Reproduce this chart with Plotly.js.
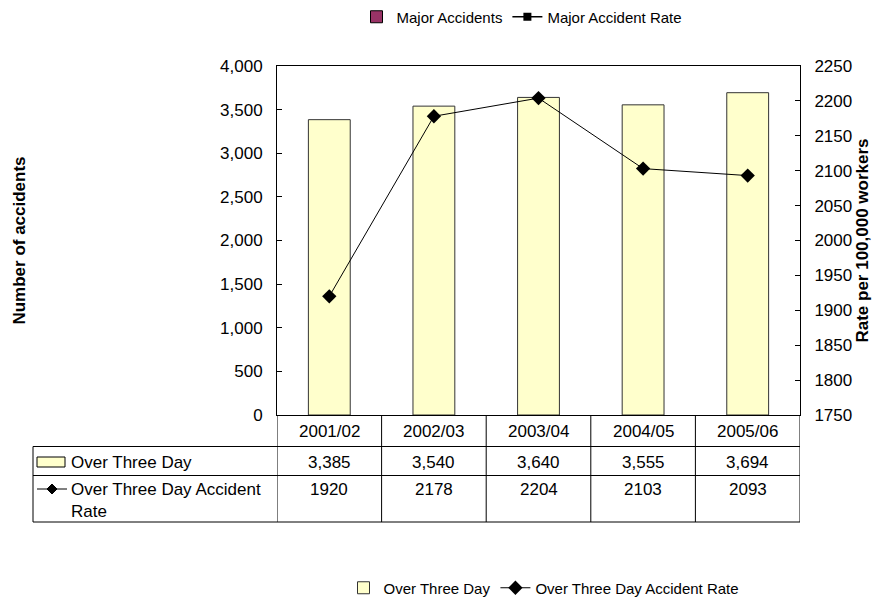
<!DOCTYPE html>
<html>
<head>
<meta charset="utf-8">
<script src="https://cdn.plot.ly/plotly-3.0.1.min.js"></script>
<style>html,body{margin:0;padding:0;background:#fff;}#chart{width:879px;height:599px;}</style>
</head>
<body>
<div id="chart"></div>
<script>
// ---- data ----
const categories = ["2001/02", "2002/03", "2003/04", "2004/05", "2005/06"];
const overThreeDay = [3385, 3540, 3640, 3555, 3694];
const overThreeDayRate = [1920, 2178, 2204, 2103, 2093];
const majorAccidents = [null, null, null, null, null];
const majorAccidentRate = [null, null, null, null, null];
const leftTicks = [0, 500, 1000, 1500, 2000, 2500, 3000, 3500, 4000];
const rightTicks = [1750, 1800, 1850, 1900, 1950, 2000, 2050, 2100, 2150, 2200, 2250];

// ---- geometry helpers (pixel -> paper) ----
const W = 879, H = 599;
const L = 277, R = 800, T = 66, B = 415;
const px = x => (x - L) / (R - L);
const py = y => (B - y) / (B - T);

const FONT = "Liberation Sans, Arial, sans-serif";
const TF = 17; // tick/table font size
const fmt = v => v.toLocaleString("en-US");

const traces = [
  {type: "bar", name: "Major Accidents", x: categories, y: majorAccidents,
   marker: {color: "#993366", line: {color: "#000", width: 1}}, legend: "legend", yaxis: "y"},
  {type: "scatter", mode: "lines+markers", name: "Major Accident Rate", x: categories, y: majorAccidentRate,
   line: {color: "#000", width: 1.5}, marker: {symbol: "square", color: "#000", size: 8}, legend: "legend", yaxis: "y2"},
  {type: "bar", name: "Over Three Day", x: categories, y: overThreeDay,
   marker: {color: "#FFFFCC", line: {color: "#333", width: 1}}, legend: "legend2", yaxis: "y"},
  {type: "scatter", mode: "lines+markers", name: "Over Three Day Accident Rate", x: categories, y: overThreeDayRate,
   line: {color: "#000", width: 1}, marker: {symbol: "diamond", color: "#000", size: 11}, legend: "legend2", yaxis: "y2"}
];

// ---- table ----
const shapes = [];
const annotations = [];
const line = {color: "#000", width: 1};
shapes.push({type: "line", xref: "paper", yref: "paper", x0: px(33), x1: 1, y0: py(446.5), y1: py(446.5), line});
shapes.push({type: "line", xref: "paper", yref: "paper", x0: px(33), x1: 1, y0: py(475.5), y1: py(475.5), line});
shapes.push({type: "line", xref: "paper", yref: "paper", x0: px(33), x1: 1, y0: py(522), y1: py(522), line});
shapes.push({type: "line", xref: "paper", yref: "paper", x0: px(33), x1: px(33), y0: py(446.5), y1: py(522), line});
for (let i = 0; i <= categories.length; i++) {
  shapes.push({type: "line", xref: "x", yref: "paper", x0: i - 0.5, x1: i - 0.5, y0: 0, y1: py(522), line});
}
shapes.push({type: "rect", xref: "paper", yref: "paper", x0: px(37), x1: px(65), y0: py(457), y1: py(467),
  fillcolor: "#FFFFCC", line: {color: "#000", width: 1}});
shapes.push({type: "line", xref: "paper", yref: "paper", x0: px(37), x1: px(67), y0: py(489), y1: py(489), line});
shapes.push({type: "path", xref: "paper", yref: "paper",
  path: `M ${px(52)} ${py(484)} L ${px(57)} ${py(489)} L ${px(52)} ${py(494)} L ${px(47)} ${py(489)} Z`,
  fillcolor: "#000", line: {color: "#000", width: 1}});

annotations.push({xref: "paper", yref: "paper", x: px(69), y: py(462), xanchor: "left", yanchor: "middle",
  text: "Over Three Day", showarrow: false, font: {family: FONT, size: TF, color: "#000"}});
annotations.push({xref: "paper", yref: "paper", x: px(69), y: py(478), xanchor: "left", yanchor: "top", align: "left",
  text: "Over Three Day Accident<br>Rate", showarrow: false, font: {family: FONT, size: TF, color: "#000"}});

categories.forEach((c, i) => {
  annotations.push({xref: "x", yref: "paper", x: c, y: py(432), yanchor: "middle", text: c, showarrow: false,
    font: {family: FONT, size: TF, color: "#000"}});
  annotations.push({xref: "x", yref: "paper", x: c, y: py(462), yanchor: "middle", text: fmt(overThreeDay[i]), showarrow: false,
    font: {family: FONT, size: TF, color: "#000"}});
  annotations.push({xref: "x", yref: "paper", x: c, y: py(489), yanchor: "middle", text: String(overThreeDayRate[i]), showarrow: false,
    font: {family: FONT, size: TF, color: "#000"}});
});

const layout = {
  width: W, height: H,
  margin: {l: L, r: W - R, t: T, b: H - B, pad: 0, autoexpand: false},
  paper_bgcolor: "#fff", plot_bgcolor: "#fff",
  font: {family: FONT, size: TF, color: "#000"},
  barmode: "overlay",
  bargap: 0.6,
  xaxis: {type: "category", range: [-0.5, 4.5], showticklabels: false, ticks: "", showline: true,
    linecolor: "#000", linewidth: 1, mirror: true, showgrid: false, zeroline: false, automargin: false},
  yaxis: {range: [0, 4000], tickvals: leftTicks, ticktext: leftTicks.map(fmt), ticks: "inside", ticklen: 5,
    tickcolor: "#000", showline: true, linecolor: "#000", linewidth: 1, showgrid: false, zeroline: false,
    ticklabelstandoff: 10, automargin: false, tickfont: {family: FONT, size: TF, color: "#000"},
    title: {text: "<b>Number of accidents</b>", font: {family: FONT, size: 17, color: "#000"}, standoff: 190}},
  yaxis2: {range: [1750, 2250], tickvals: rightTicks, ticks: "inside", ticklen: 5, tickcolor: "#000",
    overlaying: "y", side: "right", showline: true, linecolor: "#000", linewidth: 1, showgrid: false, zeroline: false,
    ticklabelstandoff: 10, automargin: false, tickfont: {family: FONT, size: TF, color: "#000"},
    title: {text: "<b>Rate per 100,000 workers</b>", font: {family: FONT, size: 17, color: "#000"}, standoff: 4}},
  legend: {orientation: "h", x: px(522), y: py(17), xanchor: "center", yanchor: "middle",
    font: {family: FONT, size: 15, color: "#000"}, bgcolor: "rgba(0,0,0,0)", itemwidth: 30},
  legend2: {orientation: "h", x: px(544), y: py(588), xanchor: "center", yanchor: "middle",
    font: {family: FONT, size: 15, color: "#000"}, bgcolor: "rgba(0,0,0,0)", itemwidth: 30},
  shapes, annotations
};

Plotly.newPlot("chart", traces, layout, {displayModeBar: false, staticPlot: true});
</script>
</body>
</html>
